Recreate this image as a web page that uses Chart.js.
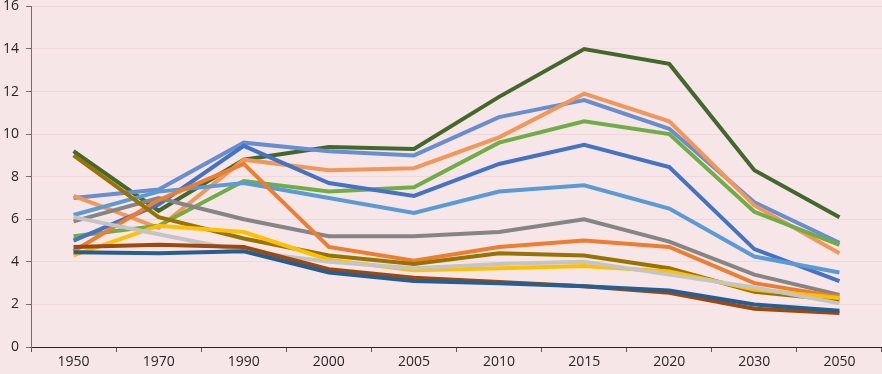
<!DOCTYPE html>
<html>
<head>
<meta charset="utf-8">
<script src="https://cdn.jsdelivr.net/npm/chart.js@4/dist/chart.umd.min.js"></script>
<style>
  html, body { margin: 0; padding: 0; background: #f7e6e8; overflow: hidden; }
  #wrap { width: 882px; height: 383px; margin-top: -9px; }
</style>
</head>
<body>
<div id="wrap"><canvas id="chart"></canvas></div>
<script>
const years = ['1950', '1970', '1990', '2000', '2005', '2010', '2015', '2020', '2030', '2050'];
const yTicks = [0, 2, 4, 6, 8, 10, 12, 14, 16];

// one array per line
const darkBlue   = [4.45, 4.4, 4.5, 3.5, 3.1, 3.0, 2.85, 2.65, 2.0, 1.7];
const brown      = [4.7, 4.8, 4.7, 3.65, 3.25, 3.05, 2.85, 2.55, 1.8, 1.6];
const lightGray  = [6.1, 5.3, 4.5, 4.0, 3.7, 3.9, 4.0, 3.4, 2.8, 2.05];
const yellow     = [4.3, 5.7, 5.4, 4.1, 3.6, 3.7, 3.8, 3.55, 2.7, 2.3];
const olive      = [9.0, 6.1, 5.1, 4.3, 3.9, 4.4, 4.3, 3.7, 2.6, 2.2];
const orange     = [4.5, 6.9, 8.6, 4.7, 4.05, 4.7, 5.0, 4.7, 3.0, 2.35];
const gray       = [5.9, 7.0, 6.0, 5.2, 5.2, 5.4, 6.0, 4.95, 3.4, 2.45];
const lightBlue  = [6.2, 7.3, 7.7, 7.0, 6.3, 7.3, 7.6, 6.5, 4.25, 3.5];
const blue       = [5.0, 6.7, 9.45, 7.7, 7.1, 8.6, 9.5, 8.45, 4.6, 3.1];
const green      = [5.2, 5.7, 7.8, 7.3, 7.5, 9.6, 10.6, 10.0, 6.35, 4.8];
const salmon     = [7.1, 5.6, 8.8, 8.3, 8.4, 9.85, 11.9, 10.6, 6.65, 4.4];
const bluePurple = [7.0, 7.4, 9.6, 9.2, 9.0, 10.8, 11.6, 10.25, 6.8, 4.9];
const darkGreen  = [9.2, 6.4, 8.8, 9.4, 9.3, 11.75, 14.0, 13.3, 8.3, 6.1];

const seriesList = [
  { data: darkBlue, color: '#255e91' },
  { data: brown, color: '#9e480e' },
  { data: lightGray, color: '#c4c4c4' },
  { data: yellow, color: '#ffc000' },
  { data: olive, color: '#997300' },
  { data: orange, color: '#ed7d31' },
  { data: gray, color: '#858585' },
  { data: lightBlue, color: '#5b9bd5' },
  { data: blue, color: '#4472c4' },
  { data: green, color: '#70ad47' },
  { data: salmon, color: '#f1975a' },
  { data: bluePurple, color: '#698ed0' },
  { data: darkGreen, color: '#43682b' },
];

const bgPlugin = {
  id: 'bg',
  beforeDraw(chart) {
    const ctx = chart.ctx;
    ctx.save();
    ctx.fillStyle = '#f7e6e8';
    ctx.fillRect(0, 0, chart.width, chart.height);
    ctx.restore();
  }
};

const font = { family: "'Open Sans', 'Noto Sans', sans-serif", size: 14 };

new Chart(document.getElementById('chart'), {
  type: 'line',
  data: {
    labels: years,
    datasets: seriesList.map(s => ({
      data: s.data,
      borderColor: s.color,
      backgroundColor: s.color,
      borderWidth: 4,
      pointRadius: 0,
      tension: 0,
      fill: false,
    })),
  },
  options: {
    responsive: true,
    maintainAspectRatio: false,
    animation: false,
    layout: { padding: 0 },
    plugins: { legend: { display: false }, tooltip: { enabled: false } },
    scales: {
      x: {
        offset: true,
        grid: { offset: true, drawOnChartArea: false, tickLength: 5, tickColor: '#595959' },
        border: { color: '#262626', width: 1 },
        ticks: { color: '#262626', font, padding: 2, maxRotation: 0 },
        afterFit(scale) { scale.height = 27; },
      },
      y: {
        min: 0,
        max: 16,
        afterBuildTicks(scale) { scale.ticks = yTicks.map(v => ({ value: v })); },
        grid: { color: '#eed8dc', tickLength: 5, tickColor: '#7a6a6e' },
        border: { color: '#7a6a6e', width: 1 },
        ticks: { color: '#262626', font, padding: 7 },
        afterFit(scale) { scale.width = 31; },
      },
    },
  },
  plugins: [bgPlugin],
});
</script>
</body>
</html>
